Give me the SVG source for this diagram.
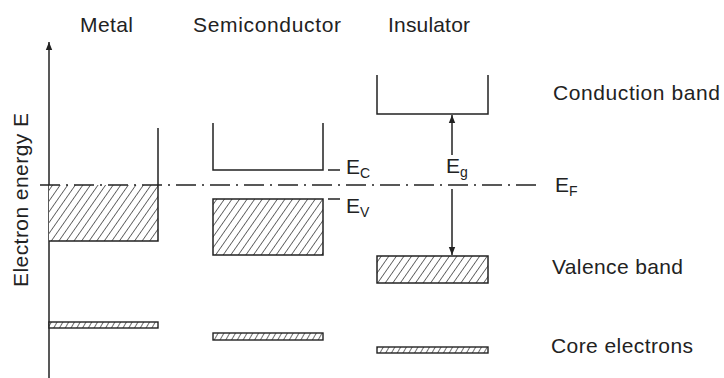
<svg xmlns="http://www.w3.org/2000/svg" width="724" height="378" viewBox="0 0 724 378">
<style>
.ln{stroke:#222;stroke-width:1.5;fill:none}
.hb{fill:url(#hatch);stroke:#222;stroke-width:1.5}
.hc{fill:url(#hatchc);stroke:#222;stroke-width:1.4}
.t{font-family:"Liberation Sans",Arial,sans-serif;font-size:21px;fill:#222}
.s{font-size:14px}
.fe{stroke:#222;stroke-width:1.3;stroke-dasharray:20 6 2 6;fill:none}
</style>
<defs>
<pattern id="hatch" patternUnits="userSpaceOnUse" width="6.2" height="8" patternTransform="rotate(35)">
<rect width="6.2" height="8" fill="#fff"/>
<line x1="0" y1="0" x2="0" y2="8" stroke="#222" stroke-width="1.3"/>
</pattern>
<pattern id="hatchc" patternUnits="userSpaceOnUse" width="5" height="8" patternTransform="rotate(30)">
<rect width="5" height="8" fill="#fff"/>
<line x1="0" y1="0" x2="0" y2="8" stroke="#222" stroke-width="1.3"/>
</pattern>
<marker id="ah" viewBox="0 0 10 10" refX="10" refY="5" markerWidth="8" markerHeight="8" markerUnits="userSpaceOnUse" orient="auto">
<path d="M0,1 L10,5 L0,9 Z" fill="#222"/>
</marker>
<marker id="ax" viewBox="0 0 10 10" refX="10" refY="5" markerWidth="10" markerHeight="8" markerUnits="userSpaceOnUse" orient="auto">
<path d="M0,1 L10,5 L0,9 Z" fill="#222"/>
</marker>
</defs>

<g id="axis">
<line class="ln" x1="49" y1="378" x2="49" y2="42" marker-end="url(#ax)"/>
<text class="t" transform="translate(28,200) rotate(-90)" text-anchor="middle" textLength="174">Electron energy E</text>
</g>

<g id="titles">
<text class="t" x="80" y="32" textLength="53">Metal</text>
<text class="t" x="193" y="32" textLength="148">Semiconductor</text>
<text class="t" x="388" y="32" textLength="82">Insulator</text>
</g>

<g id="metal">
<rect x="49" y="185" width="109" height="56" fill="url(#hatch)"/>
<path class="ln" d="M158,128 V241 H49"/>
<rect class="hc" x="49" y="322" width="109" height="6"/>
</g>

<g id="semiconductor">
<path class="ln" d="M213,123 V170 H323 V123"/>
<rect class="hb" x="213" y="199" width="110" height="56"/>
<rect class="hc" x="213" y="333" width="110" height="7"/>
<line class="ln" x1="328" y1="170" x2="340" y2="170"/>
<line class="ln" x1="328" y1="199" x2="340" y2="199"/>
<text class="t" x="346" y="174">E<tspan class="s" dy="4">C</tspan></text>
<text class="t" x="346" y="213">E<tspan class="s" dy="4">V</tspan></text>
</g>

<g id="insulator">
<path class="ln" d="M377,75 V114 H488 V75"/>
<rect class="hb" x="377" y="256" width="111" height="27"/>
<rect class="hc" x="377" y="347" width="111" height="6"/>
<text class="t" x="446" y="173">E<tspan class="s" dy="4">g</tspan></text>
</g>

<g id="connectors">
<line class="fe" x1="40" y1="185" x2="540" y2="185"/>
<line class="ln" x1="452" y1="155" x2="452" y2="115" marker-end="url(#ah)"/>
<line class="ln" x1="452" y1="189" x2="452" y2="255" marker-end="url(#ah)"/>
</g>

<g id="labels">
<text class="t" x="555" y="192">E<tspan class="s" dy="4">F</tspan></text>
<text class="t" x="553" y="100" textLength="167">Conduction band</text>
<text class="t" x="552" y="274" textLength="131">Valence band</text>
<text class="t" x="551" y="353" textLength="142">Core electrons</text>
</g>
</svg>
